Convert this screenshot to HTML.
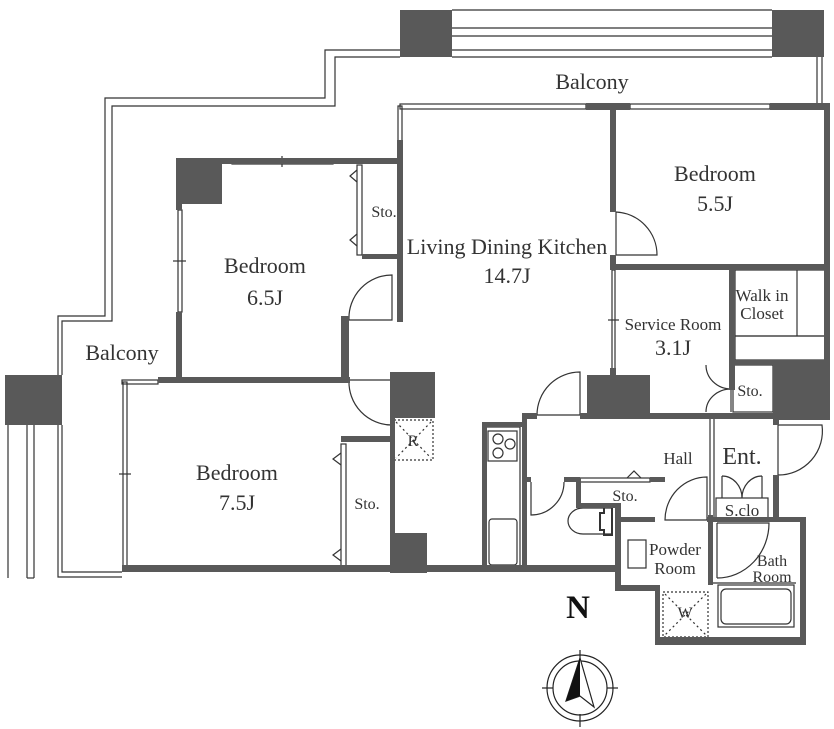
<!DOCTYPE html>
<html><head><meta charset="utf-8"><style>
html,body{margin:0;padding:0;background:#fff}
svg{display:block}
text{font-family:"Liberation Serif",serif;fill:#333;text-anchor:middle}
</style></head><body>
<svg width="834" height="729" viewBox="0 0 834 729" xmlns="http://www.w3.org/2000/svg">
<g fill="none" stroke="#333" stroke-width="1.2">
<line x1="452" y1="10" x2="772" y2="10"/>
<line x1="452" y1="28" x2="772" y2="28"/>
<line x1="452" y1="36" x2="772" y2="36"/>
<line x1="452" y1="50" x2="772" y2="50"/>
<line x1="452" y1="57" x2="772" y2="57"/>
<line x1="817" y1="57" x2="817" y2="103"/>
<line x1="822" y1="57" x2="822" y2="103"/>
<polyline points="400,50 325,50 325,98 105,98 105,316 58,316 58,375"/>
<polyline points="400,57 335,57 335,106 112,106 112,321 62,321 62,375"/>
<polyline points="58,425 58,577 122,577"/>
<polyline points="62,425 62,572 122,572"/>
<line x1="8" y1="425" x2="8" y2="578"/>
<line x1="27" y1="425" x2="27" y2="578"/>
<line x1="34" y1="425" x2="34" y2="578"/>
<line x1="27" y1="578" x2="34" y2="578"/>
<rect x="400" y="104" width="186" height="5"/>
<rect x="630" y="104" width="140" height="5"/>
<rect x="398" y="106" width="4" height="36"/>
<rect x="232" y="160" width="101" height="4"/>
<line x1="282" y1="156" x2="282" y2="167"/>
<rect x="178" y="210" width="4" height="102"/>
<line x1="173" y1="261" x2="186" y2="261"/>
<rect x="122" y="380" width="36" height="4"/>
<rect x="123" y="382" width="4" height="186"/>
<line x1="119" y1="474" x2="131" y2="474"/>
<rect x="612" y="270" width="3" height="100"/>
<line x1="608" y1="320" x2="619" y2="320"/>
<!-- doors -->
<path d="M392,320 L392,275 A43,43 0 0 0 349,320 Z"/>
<path d="M392,380 L349,380 A43,43 0 0 0 392,425"/>
<path d="M616,212 L616,255 L657,255 A43,43 0 0 0 616,212"/>
<path d="M580,415 L580,372 A43,43 0 0 0 537,415 Z"/>
<path d="M778,425 L822,425 A44,44 0 0 1 778,475 Z"/>
<path d="M707,520 L707,477 A42,43 0 0 0 665,520 L707,520"/>
<path d="M531,482 L531,515 A33,33 0 0 0 564,482"/>
<path d="M717,523 L717,578 M717,578 A52,55 0 0 0 769,523 L717,523"/>
<line x1="731" y1="365" x2="731" y2="412"/>
<path d="M706,365 A25,24 0 0 0 731,389 A25,23 0 0 0 706,412"/>
<path d="M722,476 L722,498 M722,476 A20,22 0 0 1 742,498 M762,476 L762,498 M762,476 A20,22 0 0 0 742,498"/>
<!-- closets -->
<rect x="357" y="165" width="5" height="90"/>
<polyline points="357,170 350,176 357,182"/>
<polyline points="357,234 350,240 357,246"/>
<rect x="341" y="444" width="5" height="126"/>
<polyline points="341,453 333,459 341,465"/>
<polyline points="341,549 333,555 341,561"/>
<rect x="735" y="270" width="92" height="66"/>
<line x1="797" y1="270" x2="797" y2="336"/>
<rect x="735" y="336" width="92" height="24"/>
<line x1="783" y1="266" x2="825" y2="266" stroke-dasharray="2,2" stroke-width="3"/>
<rect x="733" y="365" width="40" height="47"/>
<rect x="716" y="498" width="52" height="20"/>
<rect x="710" y="418" width="4" height="102"/>
<rect x="580" y="478" width="70" height="4"/>
<polyline points="627,478 634,471 641,478"/>
<!-- kitchen -->
<rect x="485" y="427" width="35" height="143"/>
<rect x="488" y="431" width="29" height="30"/>
<circle cx="498" cy="439" r="5"/><circle cx="510" cy="444" r="5"/><circle cx="498" cy="453" r="5"/>
<rect x="489" y="519" width="28" height="46" rx="3"/>
<!-- toilet -->
<path d="M612,508 L583,508 A15,13 0 0 0 583,534 L612,534"/>
<path d="M612,507 L604,507 L604,513 L600,513 L600,530 L604,530 L604,535 L612,535 Z" stroke-width="2"/>
<rect x="628" y="540" width="18" height="28"/>
<!-- bath -->
<rect x="718" y="585" width="76" height="42"/>
<rect x="721" y="589" width="70" height="35" rx="5"/>
<line x1="713" y1="583" x2="796" y2="583"/>
<rect x="394" y="420" width="39" height="40" stroke-dasharray="2,2"/>
<line x1="396" y1="422" x2="431" y2="458" stroke-dasharray="2,3"/>
<line x1="431" y1="422" x2="396" y2="458" stroke-dasharray="2,3"/>
<rect x="663" y="592" width="45" height="45" stroke-dasharray="2,2"/>
<line x1="665" y1="594" x2="706" y2="635" stroke-dasharray="2,3"/>
<line x1="706" y1="594" x2="665" y2="635" stroke-dasharray="2,3"/>
</g>
<g fill="#595959">
<rect x="400" y="10" width="52" height="47"/>
<rect x="772" y="10" width="52" height="47"/>
<rect x="5" y="375" width="57" height="50"/>
<rect x="176" y="160" width="46" height="44"/>
<rect x="390" y="372" width="45" height="46"/>
<rect x="390" y="533" width="37" height="40"/>
<rect x="587" y="375" width="63" height="42"/>
<rect x="773" y="365" width="54" height="55"/>
<rect x="586" y="103" width="44" height="7"/>
<rect x="770" y="103" width="60" height="7"/>
<rect x="824" y="103" width="6" height="317"/>
<rect x="610" y="106" width="6" height="106"/>
<rect x="610" y="255" width="6" height="15"/>
<rect x="610" y="368" width="6" height="10"/>
<rect x="612" y="264" width="216" height="6"/>
<rect x="729" y="264" width="6" height="126"/>
<rect x="729" y="360" width="98" height="5"/>
<rect x="397" y="140" width="6" height="182"/>
<rect x="176" y="158" width="224" height="6"/>
<rect x="362" y="254" width="40" height="5"/>
<rect x="341" y="316" width="8" height="64"/>
<rect x="176" y="160" width="6" height="50"/>
<rect x="176" y="312" width="6" height="70"/>
<rect x="158" y="377" width="192" height="6"/>
<rect x="122" y="565" width="496" height="7"/>
<rect x="390" y="418" width="5" height="120"/>
<rect x="341" y="436" width="52" height="6"/>
<rect x="522" y="413" width="15" height="6"/>
<rect x="580" y="413" width="198" height="6"/>
<rect x="482" y="422" width="43" height="5"/>
<rect x="482" y="422" width="5" height="148"/>
<rect x="522" y="413" width="5" height="157"/>
<rect x="527" y="477" width="4" height="5"/>
<rect x="564" y="477" width="16" height="5"/>
<rect x="576" y="478" width="5" height="28"/>
<rect x="576" y="503" width="44" height="5"/>
<rect x="615" y="503" width="6" height="87"/>
<rect x="615" y="585" width="45" height="6"/>
<rect x="655" y="585" width="5" height="60"/>
<rect x="655" y="637" width="150" height="8"/>
<rect x="800" y="517" width="6" height="128"/>
<rect x="707" y="517" width="99" height="5"/>
<rect x="650" y="477" width="15" height="5"/>
<rect x="773" y="418" width="6" height="7"/>
<rect x="773" y="475" width="6" height="45"/>
<rect x="708" y="515" width="5" height="70"/>
<rect x="620" y="517" width="35" height="5"/>
</g>
<g fill="none" stroke="#222" stroke-width="1.2">
<circle cx="580" cy="688" r="33"/>
<circle cx="580" cy="688" r="27"/>
<line x1="580" y1="650" x2="580" y2="662"/>
<line x1="580" y1="714" x2="580" y2="727"/>
<line x1="542" y1="688" x2="553" y2="688"/>
<line x1="607" y1="688" x2="618" y2="688"/>
<polygon points="580,658 566,701 580,696 594,707" fill="#fff"/>
</g>
<polygon points="580,658 566,701 580,696" fill="#111"/>
<g font-size="22">
<text x="592" y="89">Balcony</text>
<text x="122" y="360">Balcony</text>
<text x="265" y="273">Bedroom</text>
<text x="265" y="305">6.5J</text>
<text x="507" y="254">Living Dining Kitchen</text>
<text x="507" y="283">14.7J</text>
<text x="715" y="181">Bedroom</text>
<text x="715" y="211">5.5J</text>
<text x="673" y="355">3.1J</text>
<text x="237" y="480">Bedroom</text>
<text x="237" y="510">7.5J</text>
<text x="742" y="464" font-size="24">Ent.</text>
</g>
<g font-size="17">
<text x="762" y="301">Walk in</text>
<text x="762" y="319">Closet</text>
<text x="673" y="330">Service Room</text>
<text x="678" y="464">Hall</text>
<text x="742" y="516">S.clo</text>
<text x="675" y="555">Powder</text>
<text x="675" y="574">Room</text>
</g>
<g font-size="16">
<text x="384" y="217">Sto.</text>
<text x="750" y="396">Sto.</text>
<text x="367" y="509">Sto.</text>
<text x="625" y="501">Sto.</text>
<text x="413" y="446">R</text>
<text x="772" y="566">Bath</text>
<text x="772" y="582">Room</text>
<text x="685" y="618">W</text>
</g>
<text x="578" y="618" font-size="33" font-weight="bold" style="fill:#111">N</text>
</svg>
</body></html>
